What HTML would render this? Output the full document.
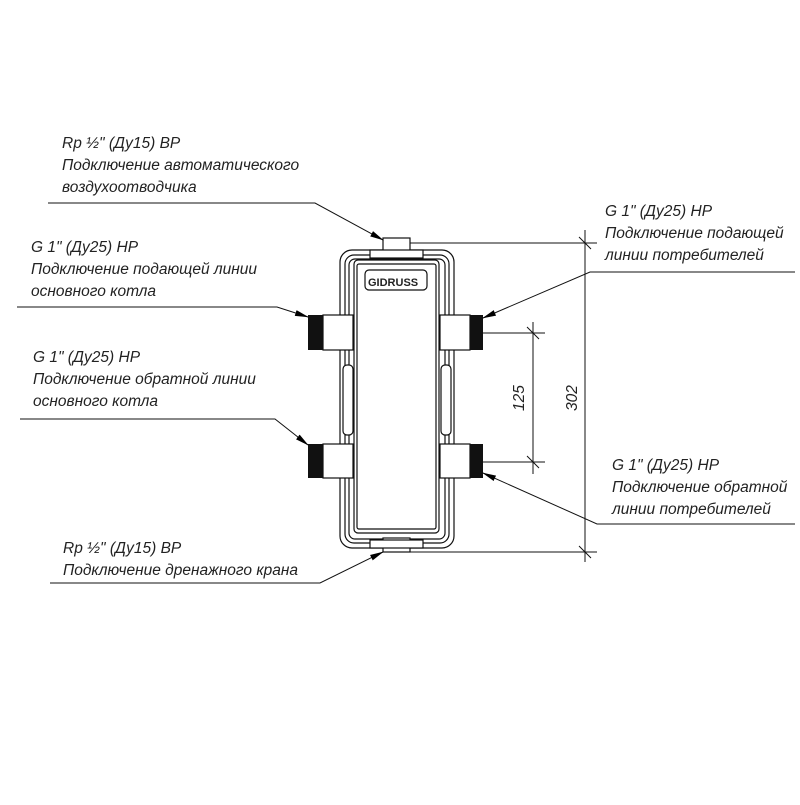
<!DOCTYPE html>
<html><head><meta charset="utf-8"><style>
html,body{margin:0;padding:0;background:#fff;}
svg text{font-family:"Liberation Sans","DejaVu Sans",sans-serif;font-style:italic;font-size:15.5px;fill:#222;}
</style></head><body>
<svg width="800" height="800" viewBox="0 0 800 800" xmlns="http://www.w3.org/2000/svg">
<defs>
<marker id="a" markerWidth="14" markerHeight="8" refX="13" refY="4" orient="auto" markerUnits="userSpaceOnUse">
<path d="M0,1 L14,4 L0,7 Z" fill="#000"/></marker>
</defs>
<g stroke="#111" stroke-width="1.2" fill="none">
<!-- outer frame -->
<rect x="340" y="250" width="114" height="298" rx="12" fill="#fff"/>
<rect x="345" y="255" width="104" height="288" rx="9"/>
<rect x="349" y="259" width="96" height="280" rx="6"/>
<rect x="354" y="260" width="85" height="273" rx="4" fill="#fff"/>
<rect x="357" y="264" width="79" height="265" rx="2"/>
<!-- side recesses -->
<rect x="343" y="365" width="10" height="70" rx="4" fill="#fff"/>
<rect x="441" y="365" width="10" height="70" rx="4" fill="#fff"/>
<!-- logo -->
<rect x="365" y="270" width="62" height="20" rx="4"/>
<!-- top/bottom nozzles -->
<rect x="383" y="238" width="27" height="20" fill="#fff"/>
<rect x="370" y="250" width="53" height="8" fill="#fff"/>
<rect x="383" y="538" width="27" height="14" fill="#fff"/>
<rect x="370" y="540" width="53" height="8" fill="#fff"/>
<!-- left nozzles -->
<rect x="323" y="315" width="30" height="35" fill="#fff"/>
<rect x="323" y="444" width="30" height="34" fill="#fff"/>
<!-- right nozzles -->
<rect x="440" y="315" width="30" height="35" fill="#fff"/>
<rect x="440" y="444" width="30" height="34" fill="#fff"/>
</g>
<g fill="#111">
<rect x="308" y="315" width="15" height="35"/>
<rect x="308" y="444" width="15" height="34"/>
<rect x="470" y="315" width="13" height="35"/>
<rect x="470" y="444" width="13" height="34"/>
</g>
<text x="368" y="286" style="font-size:11px;font-weight:bold;font-style:normal">GIDRUSS</text>
<!-- dimensions -->
<g stroke="#111" stroke-width="1" fill="none">
<line x1="410" y1="243" x2="597" y2="243"/>
<line x1="410" y1="552" x2="597" y2="552"/>
<line x1="585" y1="230" x2="585" y2="562"/>
<line x1="579" y1="237" x2="591" y2="249"/>
<line x1="579" y1="546" x2="591" y2="558"/>
<line x1="483" y1="333" x2="545" y2="333"/>
<line x1="483" y1="462" x2="545" y2="462"/>
<line x1="533" y1="322" x2="533" y2="474"/>
<line x1="527" y1="327" x2="539" y2="339"/>
<line x1="527" y1="456" x2="539" y2="468"/>
</g>
<text transform="translate(524,398) rotate(-90)" text-anchor="middle">125</text>
<text transform="translate(577,398) rotate(-90)" text-anchor="middle">302</text>
<!-- leaders -->
<g stroke="#111" stroke-width="1" fill="none">
<polyline points="48,203 315,203 383,240" marker-end="url(#a)"/>
<polyline points="17,307 277,307 308,317" marker-end="url(#a)"/>
<polyline points="20,419 275,419 308,445" marker-end="url(#a)"/>
<polyline points="50,583 320,583 383,552" marker-end="url(#a)"/>
<polyline points="795,272 590,272 483,318" marker-end="url(#a)"/>
<polyline points="795,524 597,524 483,473" marker-end="url(#a)"/>
</g>
<text x="62" y="148">Rp ½" (Ду15) ВР</text>
<text x="62" y="170">Подключение автоматического</text>
<text x="62" y="192">воздухоотводчика</text>
<text x="31" y="252">G 1" (Ду25) НР</text>
<text x="31" y="274">Подключение подающей линии</text>
<text x="31" y="296">основного котла</text>
<text x="33" y="362">G 1" (Ду25) НР</text>
<text x="33" y="384">Подключение обратной линии</text>
<text x="33" y="406">основного котла</text>
<text x="63" y="553">Rp ½" (Ду15) ВР</text>
<text x="63" y="575">Подключение дренажного крана</text>
<text x="605" y="216">G 1" (Ду25) НР</text>
<text x="605" y="238">Подключение подающей</text>
<text x="605" y="260">линии потребителей</text>
<text x="612" y="470">G 1" (Ду25) НР</text>
<text x="612" y="492">Подключение обратной</text>
<text x="612" y="514">линии потребителей</text>
</svg>
</body></html>
